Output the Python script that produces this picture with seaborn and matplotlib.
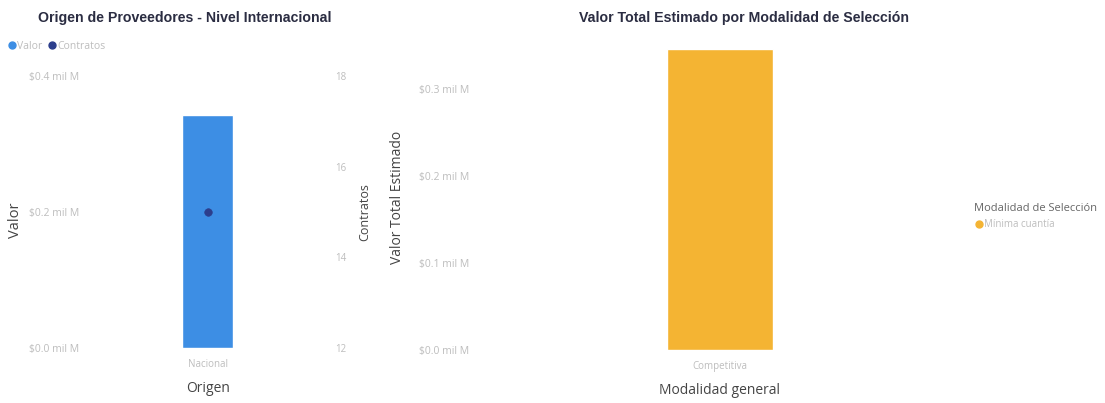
import matplotlib
matplotlib.use("Agg")
import matplotlib.pyplot as plt
from matplotlib.lines import Line2D
import seaborn as sns
import pandas as pd

# ---- data (values in "mil M") ----
origen = ["Nacional"]
valor_origen = [0.343]
contratos_origen = [15]

modalidad_general = ["Competitiva"]
modalidad_seleccion = ["Mínima cuantía"]
valor_modalidad = [0.345]

left_ticks = [0.0, 0.2, 0.4]
right_ticks = [12, 14, 16, 18]
mod_ticks = [0.0, 0.1, 0.2, 0.3]

sns.set_theme(style="white")
plt.rcParams['font.family'] = ['Open Sans', 'DejaVu Sans']

BLUE = "#3d8ee4"
NAVY = "#2c3e8c"
ORANGE = "#f4b433"
TICK = "#bdbdbd"
TITLE = "#2b2d42"
LABEL = "#444444"

fig = plt.figure(figsize=(11.05, 4.03), dpi=100)

def fmt(v):
    return f"${v:.1f} mil M"

# ---- left chart ----
df1 = pd.DataFrame({"Origen": origen, "Valor": valor_origen, "Contratos": contratos_origen})
ax1 = fig.add_axes([0.077, 0.1365, 0.2217, 0.675])
sns.barplot(data=df1, x="Origen", y="Valor", color=BLUE, width=0.21, ax=ax1, saturation=1)
ax1.set_xlim(-0.5, 0.5)
ax1.set_ylim(0, 0.4)
ax1.set_yticks(left_ticks)
ax1.set_yticklabels([fmt(v) for v in left_ticks], fontsize=7.5, color=TICK)
ax1.tick_params(axis='x', labelsize=7, colors=TICK, length=0, pad=8)
ax1.tick_params(axis='y', length=0, pad=4)
ax1.set_xlabel("Origen", fontsize=10, color=LABEL, labelpad=8)
ax1.set_ylabel("Valor", fontsize=10.5, color=LABEL)
ax1.yaxis.set_label_coords(-0.255, 0.47)
for s in ax1.spines.values():
    s.set_visible(False)

ax1b = ax1.twinx()
sns.scatterplot(data=df1, x="Origen", y="Contratos", color=NAVY, s=30, ax=ax1b, edgecolor=NAVY, zorder=5)
ax1b.set_ylim(12, 18)
ax1b.set_yticks(right_ticks)
ax1b.set_yticklabels([str(v) for v in right_ticks], fontsize=7, color=TICK)
ax1b.tick_params(axis='y', length=0, pad=4)
ax1b.set_ylabel("Contratos", fontsize=9, color=LABEL, labelpad=8)
for s in ax1b.spines.values():
    s.set_visible(False)

fig.text(0.167, 0.955, "Origen de Proveedores - Nivel Internacional", ha="center", va="center",
         fontsize=10.2, fontweight="bold", color=TITLE, family=['Liberation Sans'])

handles = [Line2D([], [], marker='o', linestyle='', color=BLUE, markersize=5),
           Line2D([], [], marker='o', linestyle='', color=NAVY, markersize=5)]
leg = fig.legend(handles, ["Valor", "Contratos"], loc="center left", bbox_to_anchor=(0.002, 0.885),
                 ncol=2, frameon=False, fontsize=7.5, handletextpad=0.0, columnspacing=0.5,
                 handlelength=1.0, borderaxespad=0)
for t in leg.get_texts():
    t.set_color(TICK)

# ---- right chart ----
df2 = pd.DataFrame({"Modalidad general": modalidad_general,
                    "Modalidad de Selección": modalidad_seleccion,
                    "Valor Total Estimado": valor_modalidad})
ax2 = fig.add_axes([0.4344, 0.1315, 0.434, 0.757])
sns.barplot(data=df2, x="Modalidad general", y="Valor Total Estimado", hue="Modalidad de Selección",
            palette=[ORANGE], width=0.22, ax=ax2, saturation=1, legend=False)
ax2.set_xlim(-0.5, 0.5)
ax2.set_ylim(0, 0.35)
ax2.set_yticks(mod_ticks)
ax2.set_yticklabels([fmt(v) for v in mod_ticks], fontsize=7.5, color=TICK)
ax2.tick_params(axis='x', labelsize=7, colors=TICK, length=0, pad=8)
ax2.tick_params(axis='y', length=0, pad=8)
ax2.set_xlabel("Modalidad general", fontsize=10, color=LABEL, labelpad=8)
ax2.set_ylabel("Valor Total Estimado", fontsize=10, color=LABEL, labelpad=10)
for s in ax2.spines.values():
    s.set_visible(False)

fig.text(0.673, 0.955, "Valor Total Estimado por Modalidad de Selección", ha="center", va="center",
         fontsize=10.2, fontweight="bold", color=TITLE, family=['Liberation Sans'])

h2 = [Line2D([], [], marker='o', linestyle='', color=ORANGE, markersize=5)]
leg2 = fig.legend(h2, modalidad_seleccion, title="Modalidad de Selección", loc="upper left",
                  bbox_to_anchor=(0.878, 0.505), frameon=False, fontsize=7,
                  title_fontsize=8, handletextpad=0.0, handlelength=1.0, borderaxespad=0)
leg2._legend_box.align = "left"
leg2.get_title().set_color("#666666")
for t in leg2.get_texts():
    t.set_color(TICK)

fig.savefig("out.png", dpi=100)
